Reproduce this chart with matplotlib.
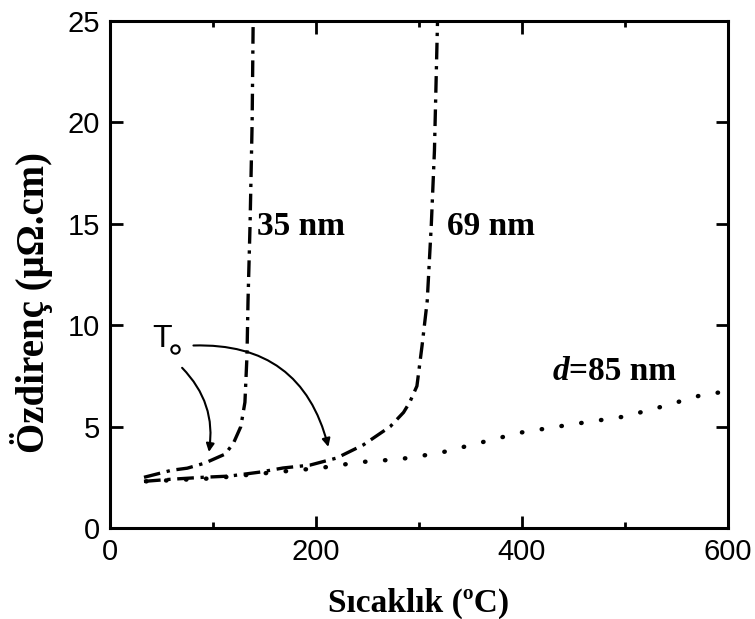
import matplotlib
matplotlib.use("Agg")
import matplotlib.pyplot as plt
from matplotlib.ticker import MultipleLocator

# 35 nm film
t35 = [33, 60, 75, 92, 112, 120, 127, 131, 133, 134, 136, 138, 139]
r35 = [2.5, 2.85, 2.95, 3.2, 3.65, 4.2, 5.0, 6.2, 8.5, 11.2, 15, 20, 25]

# 69 nm film
t69 = [33, 58, 90, 116, 146, 168, 194, 220, 246, 272, 285, 291, 298, 303, 308, 312, 315, 318]
r69 = [2.3, 2.4, 2.5, 2.56, 2.76, 2.96, 3.1, 3.45, 4.1, 5.0, 5.7, 6.2, 7.0, 9.0, 11.2, 15, 18.6, 25]

# 85 nm film
t85 = [35, 100, 160, 204, 243, 282, 320, 359, 398, 447, 500, 537, 574, 600]
r85 = [2.3, 2.45, 2.75, 2.96, 3.25, 3.4, 3.7, 4.2, 4.7, 5.1, 5.5, 6.0, 6.55, 6.75]

serif = "Liberation Serif"
sans = "Liberation Sans"

fig = plt.figure(figsize=(7.55, 6.19), dpi=100)
ax = fig.add_axes([0.1457, 0.147, 0.8185, 0.819])

dashdot = (0, (5, 2, 1, 2))
ax.plot(t35, r35, color="black", lw=2.4, linestyle=dashdot)
ax.plot(t69, r69, color="black", lw=2.4, linestyle=dashdot)
ax.plot(t85, r85, color="black", lw=3.2, linestyle=(0, (0.1, 4.4)),
        dash_capstyle="round")

ax.set_xlim(0, 600)
ax.set_ylim(0, 25)
ax.xaxis.set_major_locator(MultipleLocator(200))
ax.xaxis.set_minor_locator(MultipleLocator(100))
ax.yaxis.set_major_locator(MultipleLocator(5))
ax.tick_params(which="both", direction="in", top=True, right=True, width=2)
ax.tick_params(which="major", length=9, labelsize=21, pad=7)
ax.tick_params(which="minor", length=4)
for lab in ax.get_xticklabels() + ax.get_yticklabels():
    lab.set_fontfamily(sans)
for s in ax.spines.values():
    s.set_linewidth(2.2)

ax.set_xlabel("Sıcaklık (ºC)", fontfamily=serif, fontweight="bold", fontsize=24, va="top")
ax.xaxis.set_label_coords(0.5, -0.118)
ax.set_ylabel("Özdirenç (μΩ.cm)", fontfamily=serif, fontweight="bold", fontsize=28)
ax.yaxis.set_label_coords(-0.093, 0.445)

# curve labels
ax.text(143, 14.85, "35 nm", fontfamily=serif, fontweight="bold", fontsize=24, va="center")
ax.text(327, 14.85, "69 nm", fontfamily=serif, fontweight="bold", fontsize=24, va="center")
ax.text(430, 7.7, "d", fontfamily=serif, fontweight="bold", fontstyle="italic", fontsize=24, va="center")
ax.text(446, 7.7, "=85 nm", fontfamily=serif, fontweight="bold", fontsize=24, va="center")

# T_o marker with arrows
ax.text(41, 9.3, "T", fontfamily=sans, fontsize=23, va="center")
ax.plot([63], [8.83], marker="o", ms=6, mfc="white", mec="black", mew=1.5)
ax.annotate("", xy=(96, 3.75), xytext=(70, 7.9),
            arrowprops=dict(arrowstyle="-|>", color="black", lw=1.5, mutation_scale=12,
                            connectionstyle="arc3,rad=-0.25", shrinkA=0, shrinkB=0))
ax.annotate("", xy=(212, 4.0), xytext=(81, 9.0),
            arrowprops=dict(arrowstyle="-|>", color="black", lw=1.5, mutation_scale=12,
                            connectionstyle="arc3,rad=-0.4", shrinkA=0, shrinkB=0))

fig.savefig("out.png", dpi=100)
